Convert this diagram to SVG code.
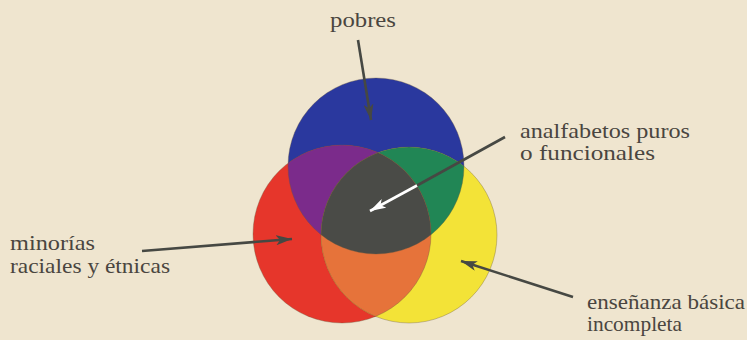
<svg xmlns="http://www.w3.org/2000/svg" width="747" height="340" viewBox="0 0 747 340">
<style>
.lbl{font-family:'Liberation Serif','Times New Roman',Times,serif;font-size:21px;fill:#4a4540}
.ln{stroke:#464843;stroke-width:2.6;fill:none}
.lnw{stroke:#ffffff;stroke-width:2.6;fill:none}
</style>
<defs>
<clipPath id="cBlue"><circle cx="376" cy="166" r="88"/></clipPath>
<clipPath id="cRed"><circle cx="342" cy="234" r="89"/></clipPath>
<marker id="ah" markerUnits="userSpaceOnUse" markerWidth="18" markerHeight="10" refX="16" refY="5" orient="auto" viewBox="0 0 18 10">
<path d="M0,0 L16,5 L0,10 L4,5 z" fill="#464843"/>
</marker>
<marker id="ahw" markerUnits="userSpaceOnUse" markerWidth="18" markerHeight="10" refX="16" refY="5" orient="auto" viewBox="0 0 18 10">
<path d="M0,0 L16,5 L0,10 L4,5 z" fill="#ffffff"/>
</marker>
</defs>
<rect width="747" height="340" fill="#efe5cf"/>
<g id="venn">
<g id="node-pobres"><circle cx="376" cy="166" r="88" fill="#2a389e"/></g>
<g id="node-minorias"><circle cx="342" cy="234" r="89" fill="#e6362b"/></g>
<g id="node-ensenanza"><circle cx="409" cy="235" r="88" fill="#f3e337"/></g>
<g id="overlap-purple" clip-path="url(#cBlue)"><circle cx="342" cy="234" r="89" fill="#7b2b8b"/></g>
<g id="overlap-green" clip-path="url(#cBlue)"><circle cx="409" cy="235" r="88" fill="#218655"/></g>
<g id="overlap-orange" clip-path="url(#cRed)"><circle cx="409" cy="235" r="88" fill="#e6733a"/></g>
<g id="node-analfabetos" clip-path="url(#cBlue)"><g clip-path="url(#cRed)"><circle cx="409" cy="235" r="88" fill="#4a4b47"/></g></g>
<g fill="none" stroke="#6a5a40" stroke-opacity="0.35" stroke-width="1">
<circle cx="376" cy="166" r="88"/><circle cx="342" cy="234" r="89"/><circle cx="409" cy="235" r="88"/>
</g>
</g>
<g id="connectors">
<line class="ln" x1="358" y1="40" x2="371" y2="120" marker-end="url(#ah)"/>
<line class="ln" x1="505" y1="137" x2="417" y2="185.5"/>
<line class="lnw" x1="417" y1="185.5" x2="370" y2="211" marker-end="url(#ahw)"/>
<line class="ln" x1="142" y1="251" x2="292" y2="239" marker-end="url(#ah)"/>
<line class="ln" x1="573" y1="297" x2="461" y2="261" marker-end="url(#ah)"/>
</g>
<g id="labels" font-family="Liberation Serif, serif">
<text class="lbl" x="330" y="27" textLength="66" lengthAdjust="spacingAndGlyphs">pobres</text>
<text class="lbl" x="520" y="138" textLength="170" lengthAdjust="spacingAndGlyphs">analfabetos puros</text>
<text class="lbl" x="520" y="160" textLength="135" lengthAdjust="spacingAndGlyphs">o funcionales</text>
<text class="lbl" x="10" y="250" textLength="85" lengthAdjust="spacingAndGlyphs">minorías</text>
<text class="lbl" x="10" y="273" textLength="160" lengthAdjust="spacingAndGlyphs">raciales y étnicas</text>
<text class="lbl" x="587" y="309" textLength="158" lengthAdjust="spacingAndGlyphs">enseñanza básica</text>
<text class="lbl" x="587" y="331" textLength="95" lengthAdjust="spacingAndGlyphs">incompleta</text>
</g>
</svg>
